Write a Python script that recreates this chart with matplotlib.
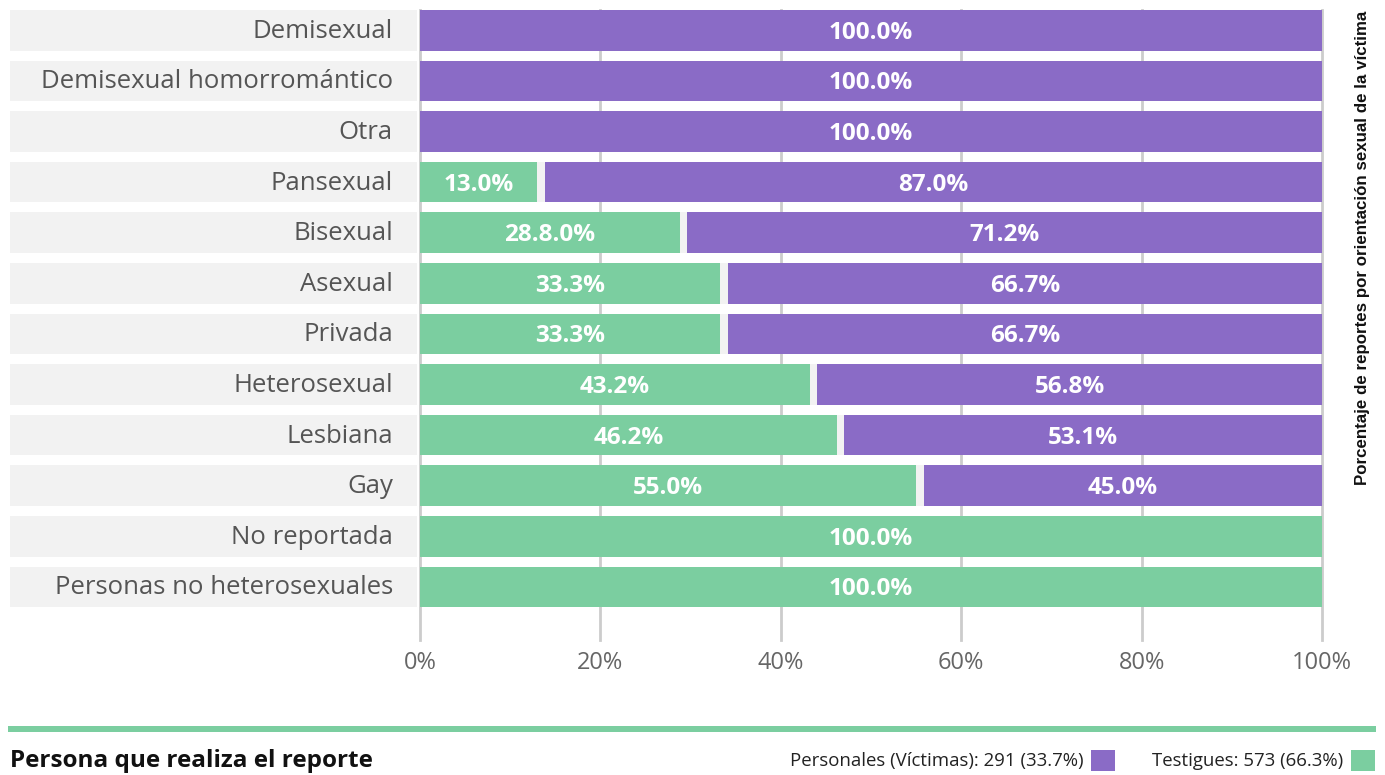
import matplotlib
matplotlib.use("Agg")
import matplotlib.pyplot as plt
from matplotlib.patches import Rectangle

plt.rcParams['font.family'] = ['Open Sans', 'DejaVu Sans']

categories = ["Demisexual", "Demisexual homorromántico", "Otra", "Pansexual",
              "Bisexual", "Asexual", "Privada", "Heterosexual", "Lesbiana",
              "Gay", "No reportada", "Personas no heterosexuales"]
testigos = [0, 0, 0, 13.0, 28.8, 33.3, 33.3, 43.2, 46.2, 55.0, 100.0, 100.0]
personales = [100.0, 100.0, 100.0, 87.0, 71.2, 66.7, 66.7, 56.8, 53.1, 45.0, 0, 0]
label_testigos = ["", "", "", "13.0%", "28.8.0%", "33.3%", "33.3%", "43.2%",
                  "46.2%", "55.0%", "100.0%", "100.0%"]
label_personales = ["100.0%", "100.0%", "100.0%", "87.0%", "71.2%", "66.7%",
                    "66.7%", "56.8%", "53.1%", "45.0%", "", ""]
xticks = [0, 20, 40, 60, 80, 100]
legend_items = ["Personales (Víctimas): 291 (33.7%)", "Testigues: 573 (66.3%)"]

GREEN = "#7bcea0"
PURPLE = "#8a6bc6"
BAND = "#f2f2f2"
GAP = 0.85

W, H = 1385, 775
fig = plt.figure(figsize=(W / 100, H / 100), dpi=100)

row = 50.6
bh = 40.5 / row
top_px, bot_px = 10, 640
ylim_top = -bh / 2
ylim_bot = ylim_top + (bot_px - top_px) / row

ax = fig.add_axes([420 / W, 1 - bot_px / H, (1322 - 420) / W, (bot_px - top_px) / H])
ax.set_xlim(0, 100)
ax.set_ylim(ylim_bot, ylim_top)
for s in ax.spines.values():
    s.set_visible(False)
ax.set_yticks([])
ax.set_xticks(xticks)
ax.set_xticklabels([f"{t}%" for t in xticks], fontsize=17, color="#666666")
ax.tick_params(axis='x', length=0, pad=8)
for t in xticks:
    ax.axvline(t, color="#cccccc", lw=2, zorder=0, clip_on=False)

ys = list(range(len(categories)))
ax.barh(ys, 100, height=bh, color=BAND, zorder=1)
ax.barh(ys, testigos, height=bh, color=GREEN, zorder=2)
p_left = [g + GAP if g > 0 else 0 for g in testigos]
p_width = [100 - l if p > 0 else 0 for l, p in zip(p_left, personales)]
ax.barh(ys, p_width, left=p_left, height=bh, color=PURPLE, zorder=2)

for y, g, l, pw, lg, lp in zip(ys, testigos, p_left, p_width, label_testigos, label_personales):
    if lg:
        ax.text(g / 2, y + 0.05, lg, ha='center', va='center', color='white',
                fontsize=17.5, fontweight='bold', zorder=3)
    if lp:
        ax.text(l + pw / 2, y + 0.05, lp, ha='center', va='center', color='white',
                fontsize=17.5, fontweight='bold', zorder=3)

# label column
axl = fig.add_axes([10 / W, 1 - bot_px / H, (417 - 10) / W, (bot_px - top_px) / H])
axl.set_xlim(0, 1)
axl.set_ylim(ylim_bot, ylim_top)
axl.axis('off')
axl.barh(ys, 1, height=bh, color=BAND)
for y, c in zip(ys, categories):
    axl.text((393 - 10) / 407, y + 0.02, c, ha='right', va='center', fontsize=18.5, color="#555555")

fig.text(1362 / W, 1 - 248 / H, "Porcentaje de reportes por orientación sexual de la víctima",
         rotation=90, ha='center', va='center', fontsize=12.2, fontweight='bold',
         family=['Liberation Sans', 'DejaVu Sans'], color="#111111")

# bottom line and footer
fig.add_artist(Rectangle((8 / W, 1 - 732 / H), (1376 - 8) / W, 6 / H,
                         transform=fig.transFigure, color=GREEN, lw=0))
fig.text(10 / W, 1 - 761 / H, "Persona que realiza el reporte", ha='left', va='center',
         fontsize=17.5, fontweight='bold', color="#111111")

fig.text(1083 / W, 1 - 761 / H, legend_items[0], ha='right', va='center',
         fontsize=13.4, color="#222222")
fig.add_artist(Rectangle((1091 / W, 1 - 771 / H), 24 / W, 21 / H,
                         transform=fig.transFigure, color=PURPLE, lw=0))
fig.text(1343 / W, 1 - 761 / H, legend_items[1], ha='right', va='center',
         fontsize=13.4, color="#222222")
fig.add_artist(Rectangle((1351 / W, 1 - 771 / H), 24 / W, 21 / H,
                         transform=fig.transFigure, color=GREEN, lw=0))

fig.savefig("out.png", dpi=100)
